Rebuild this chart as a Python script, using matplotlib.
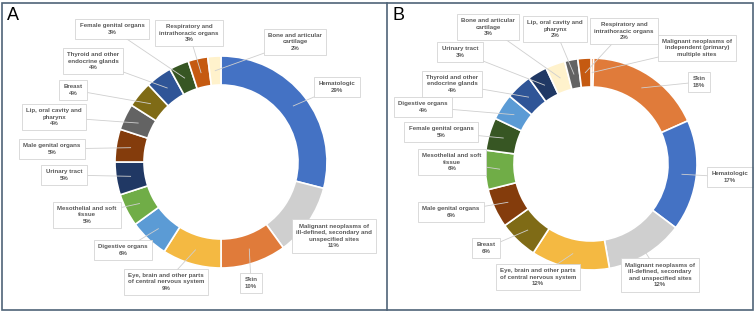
import numpy as np
import matplotlib.pyplot as plt
from matplotlib.patches import Rectangle

plt.rcParams['font.family'] = ['Liberation Sans', 'DejaVu Sans']

# panel A data (clockwise from top)
cats_a = ['Hematologic', 'Malignant neoplasms of\nill-defined, secondary and\nunspecified sites', 'Skin',
          'Eye, brain and other parts\nof central nervous system', 'Digestive organs',
          'Mesothelial and soft\ntissue', 'Urinary tract', 'Male genital organs',
          'Lip, oral cavity and\npharynx', 'Breast', 'Thyroid and other\nendocrine glands',
          'Female genital organs', 'Respiratory and\nintrathoracic organs', 'Bone and articular\ncartilage']
vals_a = [29, 11, 10, 9, 6, 5, 5, 5, 4, 4, 4, 3, 3, 2]
cols_a = ['#4472C4', '#CFCFCF', '#E07B3A', '#F4B942', '#5B9BD5', '#70AD47', '#203864', '#843C0C',
          '#636363', '#7F6B16', '#2F5597', '#375623', '#C55A11', '#FFF2CC']

# panel B data (clockwise from top)
cats_b = ['Malignant neoplasms of\nindependent (primary)\nmultiple sites', 'Skin', 'Hematologic',
          'Malignant neoplasms of\nill-defined, secondary\nand unspecified sites',
          'Eye, brain and other parts\nof central nervous system', 'Breast', 'Male genital organs',
          'Mesothelial and soft\ntissue', 'Female genital organs', 'Digestive organs',
          'Thyroid and other\nendocrine glands', 'Urinary tract', 'Bone and articular\ncartilage',
          'Lip, oral cavity and\npharynx', 'Respiratory and\nintrathoracic organs']
vals_b = [0.4, 18, 17, 12, 12, 6, 6, 6, 5, 4, 4, 3, 3, 2, 2]
cols_b = ['#ED7D31', '#E07B3A', '#4472C4', '#CFCFCF', '#F4B942', '#7F6B16', '#843C0C', '#70AD47',
          '#375623', '#5B9BD5', '#2F5597', '#203864', '#FFF2CC', '#636363', '#C55A11']

# label box centres in pixels (x, y from top)
pos_a = [(337, 87), (334, 236), (251, 283), (166, 282), (123, 250), (87, 215), (64, 175),
         (52, 149), (54, 117), (73, 90), (93, 61), (112, 29), (189, 33), (295, 42)]
pos_b = [(697, 48), (699, 82), (730, 177), (660, 275), (538, 277), (486, 248), (451, 212),
         (452, 162), (441, 132), (423, 107), (452, 84), (460, 52), (488, 27), (555, 29), (624, 31)]

W, H = 756, 313
fig = plt.figure(figsize=(W / 100, H / 100), dpi=100)
ax = fig.add_axes([0, 0, 1, 1])

R = 106
ring = 29


def donut(cx, cy, cats, vals, cols, pos):
    wedges, _ = ax.pie(vals, colors=cols, startangle=90, counterclock=False, radius=R,
                       center=(cx, cy), frame=True,
                       wedgeprops=dict(width=ring, edgecolor='white', linewidth=1.2))
    for w, c, v, (px, py) in zip(wedges, cats, vals, pos):
        w.set_zorder(1)
        ang = np.deg2rad((w.theta1 + w.theta2) / 2)
        r = R - ring / 2
        ax.plot([cx + r * np.cos(ang), px], [cy + r * np.sin(ang), H - py],
                color='#CFCFCF', lw=0.6, zorder=2)
        txt = c + ('\n%d%%' % round(v) if v >= 1 else '')
        ax.text(px, H - py, txt, ha='center', va='center', fontsize=4.4, fontweight='bold',
                color='#595959', linespacing=1.4, zorder=3,
                bbox=dict(boxstyle='square,pad=0.7', fc='white', ec='#D4D4D4', lw=0.6))


donut(221, H - 162, cats_a, vals_a, cols_a, pos_a)
donut(591, H - 164, cats_b, vals_b, cols_b, pos_b)
ax.set_xlim(0, W)
ax.set_ylim(0, H)
ax.set_aspect('equal')
ax.axis('off')

# panel frames
ax.add_patch(Rectangle((1.5, H - 310), 751.5, 307, fill=False, ec='#4F6478', lw=1.2, zorder=5))
ax.plot([387, 387], [H - 310, H - 3], color='#4F6478', lw=1.2, zorder=5)
ax.text(7, H - 15, 'A', fontsize=13, va='center', ha='left', color='black')
ax.text(392, H - 15, 'B', fontsize=13, va='center', ha='left', color='black')

plt.savefig('out.png', dpi=100)
